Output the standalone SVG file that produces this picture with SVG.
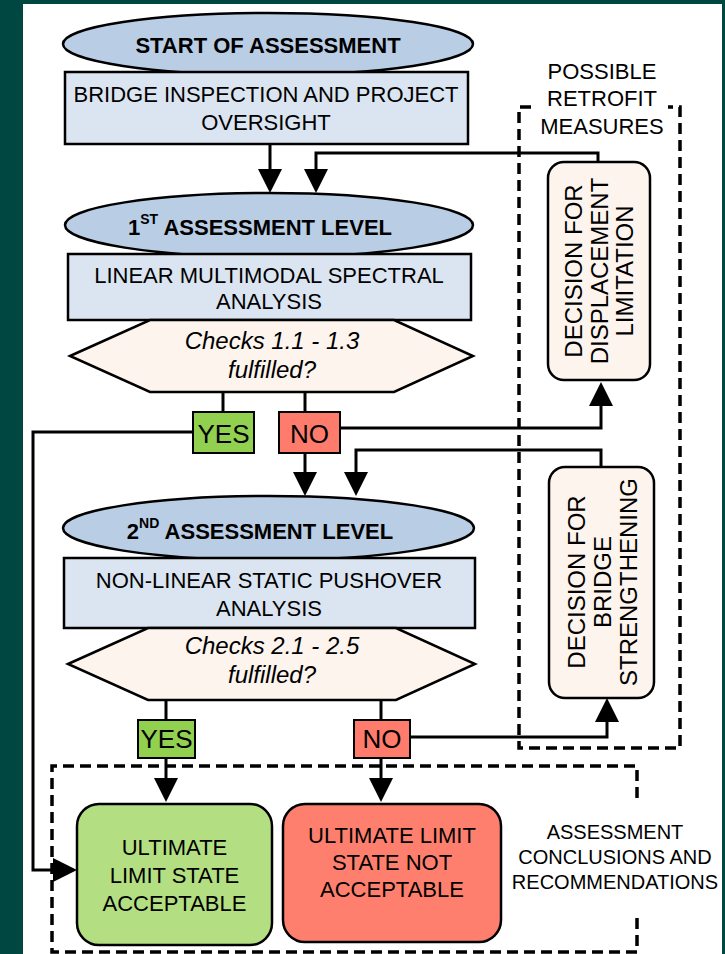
<svg xmlns="http://www.w3.org/2000/svg" width="725" height="954" viewBox="0 0 725 954">
<defs>
<marker id="ah" markerWidth="24" markerHeight="24" viewBox="0 0 24 24" refX="14" refY="12" orient="auto" markerUnits="userSpaceOnUse"><path d="M0,0 L24,12 L0,24 z" fill="#000"/></marker>
<style>
text{font-family:"Liberation Sans",Arial,sans-serif;fill:#000}
.t{font-size:22px;text-anchor:middle}
.b{font-size:22px;font-weight:bold;text-anchor:middle}
.i{font-size:24px;font-style:italic;text-anchor:middle}
.r{font-size:24px;text-anchor:middle}
.yn{font-size:26px;text-anchor:middle}
.lbl{font-size:22px;text-anchor:middle}
.lbl2{font-size:20px;text-anchor:middle}
.ell{fill:#b9cde5;stroke:#000;stroke-width:2.5}
.box{fill:#dbe5f1;stroke:#000;stroke-width:2.5}
.hex{fill:#fdf4ee;stroke:#000;stroke-width:2.5}
.dec{fill:#fdf4ee;stroke:#000;stroke-width:2.5}
.yes{fill:#92d050;stroke:#000;stroke-width:2}
.no{fill:#ff7c6c;stroke:#000;stroke-width:2}
.c{fill:none;stroke:#000;stroke-width:3}
.d{fill:none;stroke:#000;stroke-width:3.5;stroke-dasharray:11 6}
</style>
</defs>
<rect x="0" y="0" width="725" height="954" fill="#004741"/>
<rect x="23" y="4" width="699" height="950" fill="#fff"/>

<g id="retrofit-frame">
<path class="d" d="M531,107 H519 V748 H680 V107 H668"/>
<text class="lbl" x="602" y="79">POSSIBLE</text>
<text class="lbl" x="602" y="106">RETROFIT</text>
<text class="lbl" x="602" y="134">MEASURES</text>
</g>
<g id="conclusions-frame">
<path class="d" d="M637,798 V766 H52 V952 H637 V917"/>
<text class="lbl2" x="615" y="839">ASSESSMENT</text>
<text class="lbl2" x="615" y="864">CONCLUSIONS  AND</text>
<text class="lbl2" x="615" y="889">RECOMMENDATIONS</text>
</g>

<g id="connectors">
<line class="c" x1="270" y1="144" x2="270" y2="183" marker-end="url(#ah)"/>
<path class="c" d="M598,162 V153 H316 V183" marker-end="url(#ah)"/>
<line class="c" x1="223" y1="392" x2="223" y2="412"/>
<line class="c" x1="305" y1="392" x2="305" y2="412"/>
<path class="c" d="M193,432 H33 V870 H67" marker-end="url(#ah)"/>
<path class="c" d="M340,428 H601 V392" marker-end="url(#ah)"/>
<line class="c" x1="305" y1="453" x2="305" y2="486" marker-end="url(#ah)"/>
<path class="c" d="M601,467 V450 H356 V486" marker-end="url(#ah)"/>
<line class="c" x1="166" y1="700" x2="166" y2="720"/>
<line class="c" x1="381" y1="700" x2="381" y2="720"/>
<line class="c" x1="166" y1="758" x2="166" y2="792" marker-end="url(#ah)"/>
<line class="c" x1="381" y1="758" x2="381" y2="792" marker-end="url(#ah)"/>
<path class="c" d="M410,737 H607 V708" marker-end="url(#ah)"/>
</g>

<g id="start">
<ellipse class="ell" cx="268" cy="44" rx="205" ry="31"/>
<text class="b" x="268" y="53">START OF ASSESSMENT</text>
</g>
<g id="inspection">
<rect class="box" x="65" y="72" width="403" height="72"/>
<text class="t" x="266" y="102">BRIDGE INSPECTION AND PROJECT</text>
<text class="t" x="266" y="130">OVERSIGHT</text>
</g>
<g id="level1">
<ellipse class="ell" cx="269" cy="225" rx="204" ry="32"/>
<text class="b" x="260" y="235">1<tspan style="font-size:14px" dy="-11">ST</tspan><tspan dy="11"> ASSESSMENT LEVEL</tspan></text>
</g>
<g id="linear">
<rect class="box" x="68" y="254" width="403" height="66"/>
<text class="t" x="269" y="283">LINEAR MULTIMODAL SPECTRAL</text>
<text class="t" x="269" y="309">ANALYSIS</text>
</g>
<g id="checks1">
<polygon class="hex" points="70,356 150,320 394,320 473,356 394,392 150,392"/>
<text class="i" x="272" y="349">Checks 1.1 - 1.3</text>
<text class="i" x="272" y="378">fulfilled?</text>
</g>
<g id="yes1">
<rect class="yes" x="193" y="412" width="61" height="41"/>
<text class="yn" x="223.5" y="443">YES</text>
</g>
<g id="no1">
<rect class="no" x="279" y="412" width="61" height="41"/>
<text class="yn" x="309.5" y="443">NO</text>
</g>
<g id="displacement">
<rect class="dec" x="548" y="162" width="102" height="218" rx="16"/>
<text class="r" transform="translate(599,271) rotate(-90)"><tspan x="0" y="-17">DECISION FOR</tspan><tspan x="0" y="9">DISPLACEMENT</tspan><tspan x="0" y="34">LIMITATION</tspan></text>
</g>
<g id="strengthening">
<rect class="dec" x="549" y="467" width="105" height="231" rx="16"/>
<text class="r" transform="translate(601,582) rotate(-90)"><tspan x="0" y="-16">DECISION FOR</tspan><tspan x="0" y="10">BRIDGE</tspan><tspan x="0" y="36">STRENGTHENING</tspan></text>
</g>
<g id="level2">
<ellipse class="ell" cx="268.5" cy="528" rx="205.5" ry="32"/>
<text class="b" x="260" y="539">2<tspan style="font-size:14px" dy="-11">ND</tspan><tspan dy="11"> ASSESSMENT LEVEL</tspan></text>
</g>
<g id="pushover">
<rect class="box" x="64" y="558" width="411" height="70"/>
<text class="t" x="269" y="588">NON-LINEAR STATIC PUSHOVER</text>
<text class="t" x="269" y="616">ANALYSIS</text>
</g>
<g id="checks2">
<polygon class="hex" points="68,664 148,628 396,628 475,664 396,700 148,700"/>
<text class="i" x="272" y="654">Checks 2.1 - 2.5</text>
<text class="i" x="272" y="683">fulfilled?</text>
</g>
<g id="yes2">
<rect class="yes" x="138" y="720" width="57" height="38"/>
<text class="yn" x="166.5" y="748">YES</text>
</g>
<g id="no2">
<rect class="no" x="354" y="720" width="56" height="38"/>
<text class="yn" x="382" y="748">NO</text>
</g>
<g id="acceptable">
<rect x="77" y="804" width="195" height="141" rx="22" fill="#b3df82" stroke="#000" stroke-width="2.5"/>
<text class="t" x="174.5" y="855">ULTIMATE</text>
<text class="t" x="174.5" y="883">LIMIT STATE</text>
<text class="t" x="174.5" y="911">ACCEPTABLE</text>
</g>
<g id="not-acceptable">
<rect x="283" y="804" width="218" height="138" rx="22" fill="#ff7f6e" stroke="#000" stroke-width="2.5"/>
<text class="t" x="392" y="843">ULTIMATE LIMIT</text>
<text class="t" x="392" y="870">STATE NOT</text>
<text class="t" x="392" y="897">ACCEPTABLE</text>
</g>
</svg>
